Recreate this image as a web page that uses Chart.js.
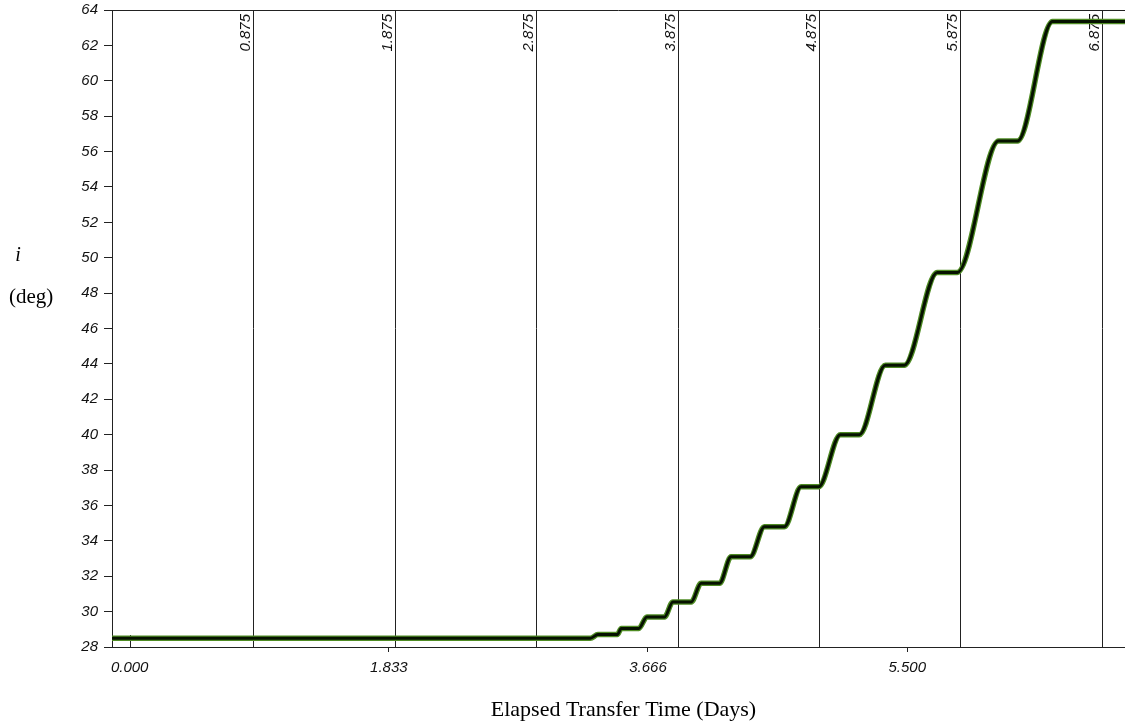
<!DOCTYPE html>
<html>
<head>
<meta charset="utf-8">
<script src="https://cdn.jsdelivr.net/npm/chart.js@4.4.1/dist/chart.umd.min.js"></script>
<style>
  html, body { margin: 0; padding: 0; background: #fff; }
  #wrap { width: 1125px; height: 725px; position: relative; }
</style>
</head>
<body>
<div id="wrap"><canvas id="incl-chart" width="1125" height="725"></canvas></div>
<script>
// Inclination history over the transfer (days, degrees)
const days = [-0.125, 3.258, 3.312, 3.449, 3.477, 3.601, 3.658, 3.783, 3.842, 3.972,
              4.042, 4.172, 4.254, 4.389, 4.490, 4.631, 4.749, 4.873, 5.027, 5.161,
              5.345, 5.479, 5.712, 5.854, 6.146, 6.280, 6.527, 7.04];
const incl = [28.5, 28.5, 28.7, 28.7, 29.05, 29.05, 29.7, 29.7, 30.55, 30.55,
              31.6, 31.6, 33.1, 33.1, 34.8, 34.8, 37.05, 37.05, 40.0, 40.0,
              43.93, 43.93, 49.17, 49.17, 56.6, 56.6, 63.35, 63.35];

// Bottom axis tick values
const xTickValues = [0, 1.833, 3.666, 5.5];

// Vertical day markers and their labels
const markerDays   = [0.875, 1.875, 2.875, 3.875, 4.875, 5.875, 6.875];
const markerLabels = ['0.875', '1.875', '2.875', '3.875', '4.875', '5.875', '6.875'];

const X_MIN = -0.125, X_MAX = 7.04;
const Y_MIN = 28, Y_MAX = 64;

const TICK_FONT = { family: '"Liberation Sans", Arial, sans-serif', size: 15, style: 'italic' };
const AXIS_COLOR = '#222';

const pts = days.map((d, i) => ({ x: d, y: incl[i] }));

// Frame, day markers and axis titles
const decorations = {
  id: 'decorations',
  beforeDatasetsDraw(chart) {
    const { ctx, chartArea: a, scales: { x } } = chart;
    ctx.save();
    ctx.strokeStyle = AXIS_COLOR;
    ctx.lineWidth = 1;

    // top border
    ctx.beginPath();
    ctx.moveTo(a.left, a.top + 0.5);
    ctx.lineTo(a.right, a.top + 0.5);
    ctx.stroke();

    // inward tick at the origin
    const x0 = Math.round(x.getPixelForValue(0)) + 0.5;
    ctx.beginPath();
    ctx.moveTo(x0, a.bottom);
    ctx.lineTo(x0, a.bottom - 12);
    ctx.stroke();

    ctx.fillStyle = '#111';
    ctx.font = 'italic 15px "Liberation Sans", Arial, sans-serif';
    ctx.textAlign = 'right';
    ctx.textBaseline = 'alphabetic';
    markerDays.forEach((d, i) => {
      const px = Math.round(x.getPixelForValue(d)) + 0.5;
      ctx.beginPath();
      ctx.moveTo(px, a.top);
      ctx.lineTo(px, a.bottom);
      ctx.stroke();

      ctx.save();
      ctx.translate(px - 4, a.top + 4);
      ctx.rotate(-Math.PI / 2);
      ctx.fillText(markerLabels[i], 0, 0);
      ctx.restore();
    });
    ctx.restore();
  },
  afterDraw(chart) {
    const { ctx, chartArea: a } = chart;
    ctx.save();
    ctx.fillStyle = '#000';
    ctx.textBaseline = 'alphabetic';

    ctx.font = '22px "Liberation Serif", "Times New Roman", serif';
    ctx.textAlign = 'center';
    ctx.fillText('Elapsed Transfer Time (Days)', (a.left + a.right) / 2 + 5, 716);

    ctx.font = 'italic 20px "Liberation Serif", "Times New Roman", serif';
    ctx.fillText('i', 18, 261);

    ctx.font = '21px "Liberation Serif", "Times New Roman", serif';
    ctx.textAlign = 'left';
    ctx.fillText('(deg)', 9, 303);
    ctx.restore();
  }
};

const lineStyle = {
  pointRadius: 0,
  cubicInterpolationMode: 'monotone',
  fill: false,
};

new Chart(document.getElementById('incl-chart'), {
  type: 'line',
  data: {
    datasets: [
      { ...lineStyle, data: pts, borderColor: '#061200', borderWidth: 3 },
      { ...lineStyle, data: pts, borderColor: '#4f8c24', borderWidth: 5.5 },
    ],
  },
  options: {
    responsive: false,
    animation: false,
    events: [],
    layout: { padding: { top: 10, left: 0, right: 0, bottom: 0 } },
    plugins: { legend: { display: false }, tooltip: { enabled: false } },
    scales: {
      x: {
        type: 'linear',
        min: X_MIN,
        max: X_MAX,
        afterBuildTicks: s => { s.ticks = xTickValues.map(v => ({ value: v })); },
        afterFit: s => { s.height = 78; s.paddingLeft = 0; s.paddingRight = 0; },
        ticks: {
          font: TICK_FONT,
          color: '#111',
          padding: 7,
          maxRotation: 0,
          callback: v => v.toFixed(3),
        },
        grid: {
          drawOnChartArea: false,
          tickLength: 5,
          color: ctx => (ctx.tick && ctx.tick.value === 0 ? 'rgba(0,0,0,0)' : AXIS_COLOR),
        },
        border: { display: true, color: AXIS_COLOR, width: 1 },
      },
      y: {
        type: 'linear',
        min: Y_MIN,
        max: Y_MAX,
        afterFit: s => { s.width = 112; s.paddingTop = 0; s.paddingBottom = 0; },
        ticks: {
          stepSize: 2,
          font: TICK_FONT,
          color: '#111',
          padding: 6,
        },
        grid: {
          drawOnChartArea: false,
          tickLength: 8,
          color: AXIS_COLOR,
        },
        border: { display: true, color: AXIS_COLOR, width: 1 },
      },
    },
  },
  plugins: [decorations],
});
</script>
</body>
</html>
